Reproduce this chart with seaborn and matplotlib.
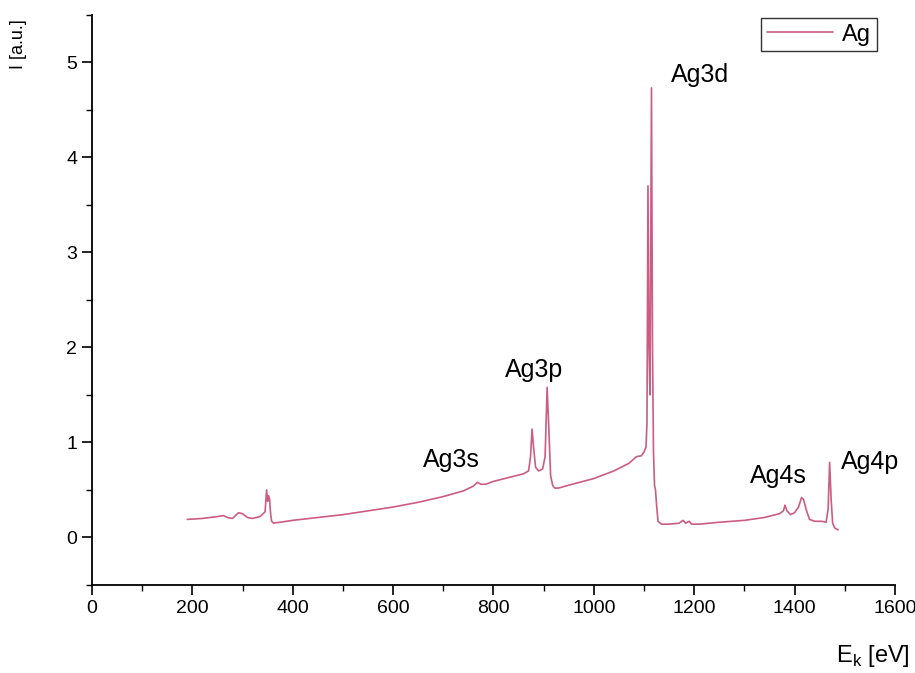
import numpy as np
import pandas as pd
import matplotlib
matplotlib.use("Agg")
import matplotlib.pyplot as plt
import seaborn as sns
from matplotlib.ticker import MultipleLocator

# XPS survey spectrum of silver (kinetic energy scale)
energy_ev = [
    190, 220, 250, 262, 270, 280, 292, 300, 310, 320, 335, 345, 348, 350, 352,
    354, 356, 358, 362, 366, 375, 400, 450, 500, 550, 600, 650, 700, 740, 760,
    768, 775, 785, 800, 830, 860, 870, 874, 877, 880, 884, 890, 898, 903, 907,
    910, 914, 918, 922, 930, 950, 1000, 1040, 1070, 1085, 1095, 1100, 1104,
    1106, 1108, 1110, 1112, 1113, 1115, 1117, 1119, 1121, 1123, 1125, 1128,
    1135, 1150, 1170, 1178, 1183, 1190, 1195, 1210, 1250, 1300, 1340, 1370,
    1378, 1381, 1385, 1392, 1400, 1408, 1414, 1418, 1424, 1430, 1440, 1455,
    1463, 1467, 1470, 1473, 1476, 1480, 1487,
]
intensity_au = [
    0.19, 0.20, 0.22, 0.23, 0.21, 0.20, 0.26, 0.25, 0.21, 0.20, 0.22, 0.27,
    0.50, 0.38, 0.44, 0.40, 0.25, 0.17, 0.15, 0.155, 0.16, 0.18, 0.21, 0.24,
    0.28, 0.32, 0.37, 0.43, 0.49, 0.54, 0.58, 0.56, 0.56, 0.59, 0.63, 0.67,
    0.70, 0.85, 1.14, 0.95, 0.74, 0.70, 0.72, 0.85, 1.58, 1.20, 0.65, 0.55,
    0.52, 0.52, 0.55, 0.62, 0.70, 0.78, 0.85, 0.86, 0.90, 0.95, 1.20, 3.70,
    2.00, 1.50, 2.50, 4.73, 2.00, 0.90, 0.55, 0.50, 0.35, 0.17, 0.14, 0.14,
    0.15, 0.18, 0.15, 0.17, 0.14, 0.14, 0.16, 0.18, 0.21, 0.25, 0.28, 0.34,
    0.28, 0.24, 0.26, 0.32, 0.42, 0.40, 0.28, 0.19, 0.17, 0.17, 0.16, 0.30,
    0.79, 0.40, 0.15, 0.10, 0.08,
]

# Core-level assignments: label, x, y (label centre)
peak_labels = ["Ag3s", "Ag3p", "Ag3d", "Ag4s", "Ag4p"]
label_x = [717, 881, 1212, 1368, 1550]
label_y = [0.81, 1.76, 4.87, 0.65, 0.79]

sns.set_style("ticks")
plt.rcParams["font.family"] = ["Liberation Sans", "DejaVu Sans"]
plt.rcParams["text.color"] = "black"
plt.rcParams["axes.labelcolor"] = "black"
plt.rcParams["xtick.color"] = "black"
plt.rcParams["ytick.color"] = "black"

df = pd.DataFrame({"E": energy_ev, "I": intensity_au})

fig = plt.figure(figsize=(9.15, 6.73), dpi=100)
ax = fig.add_axes([0.1005, 0.1308, 0.8775, 0.8472])

line_color = "#cc5c82"
sns.lineplot(data=df, x="E", y="I", ax=ax, color=line_color, linewidth=1.2,
             label="Ag", sort=False)

for txt, x, y in zip(peak_labels, label_x, label_y):
    ax.text(x, y, txt, fontsize=18, ha="center", va="center", color="black")

ax.set_xlim(0, 1600)
ax.set_ylim(-0.5, 5.5)
ax.xaxis.set_major_locator(MultipleLocator(200))
ax.xaxis.set_minor_locator(MultipleLocator(100))
ax.yaxis.set_major_locator(MultipleLocator(1))
ax.yaxis.set_minor_locator(MultipleLocator(0.5))
ax.tick_params(which="major", length=7, width=1.2, labelsize=14,
               color="black", labelcolor="black")
ax.tick_params(which="minor", length=4, width=1.0, color="black")

for s in ["top", "right"]:
    ax.spines[s].set_visible(False)
for s in ["left", "bottom"]:
    ax.spines[s].set_linewidth(1.3)
    ax.spines[s].set_color("black")

ax.set_xlabel("E$_\\mathregular{k}$ [eV]", fontsize=17, color="black")
ax.xaxis.set_label_coords(1.019, -0.102)
ax.xaxis.label.set_ha("right")
ax.xaxis.label.set_va("top")

ax.set_ylabel("I [a.u.]", fontsize=13, color="black")
ax.yaxis.set_label_coords(-0.092, 0.993)
ax.yaxis.label.set_rotation_mode("anchor")
ax.yaxis.label.set_ha("right")
ax.yaxis.label.set_va("center")

leg = ax.legend(loc="upper right", bbox_to_anchor=(0.978, 0.995), fontsize=17,
                frameon=True, fancybox=False, edgecolor="black",
                handlelength=2.8, borderpad=0.25, handletextpad=0.4,
                borderaxespad=0.0)
leg.get_frame().set_linewidth(1.0)

fig.savefig("out.png", dpi=100, facecolor="white")
